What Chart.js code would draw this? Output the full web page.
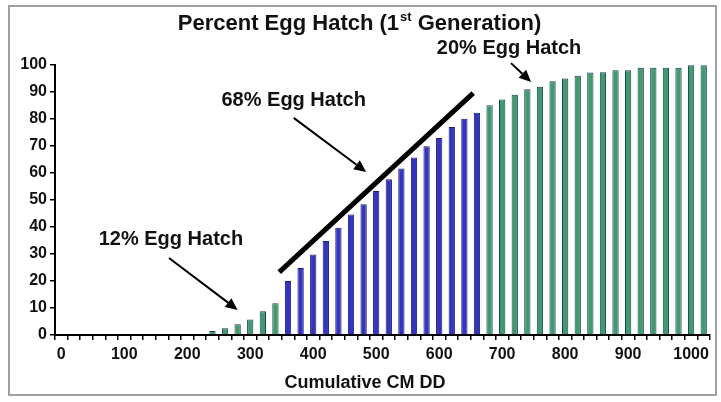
<!DOCTYPE html>
<html>
<head>
<meta charset="utf-8">
<script src="https://cdn.jsdelivr.net/npm/chart.js@4.4.1/dist/chart.umd.min.js"></script>
<style>
  html, body { margin: 0; padding: 0; background: #fff; }
  #wrap { width: 721px; height: 402px; position: relative; }
</style>
</head>
<body>
<div id="wrap"><canvas id="c" width="721" height="402"></canvas></div>
<script>
'use strict';

// ===== data =====
// cumulative degree-days, one bar every 20 DD
const DD = [
  '0', '20', '40', '60', '80', '100', '120', '140', '160', '180',
  '200', '220', '240', '260', '280', '300', '320', '340', '360', '380',
  '400', '420', '440', '460', '480', '500', '520', '540', '560', '580',
  '600', '620', '640', '660', '680', '700', '720', '740', '760', '780',
  '800', '820', '840', '860', '880', '900', '920', '940', '960', '980',
  '1000', '1020',
];

// percent egg hatch
const HATCH = [
  0, 0, 0, 0, 0, 0, 0, 0, 0, 0,
  0, 0.3, 1.5, 2.5, 4, 5.7, 8.8, 11.8, 20, 24.8,
  29.8, 34.8, 39.7, 44.6, 48.4, 53.3, 57.7, 61.7, 65.7, 69.9,
  73, 77, 80.1, 82.3, 85.1, 87.2, 89, 91, 91.9, 94,
  95, 96, 97.2, 97.3, 98.1, 98.1, 99, 99, 99, 99,
  99.9, 99.9,
];

// phase of each bar: 'g' = early/late (green), 'b' = main 68% hatch (blue)
const PHASE = [
  'g', 'g', 'g', 'g', 'g', 'g', 'g', 'g', 'g', 'g',
  'g', 'g', 'g', 'g', 'g', 'g', 'g', 'g', 'b', 'b',
  'b', 'b', 'b', 'b', 'b', 'b', 'b', 'b', 'b', 'b',
  'b', 'b', 'b', 'b', 'g', 'g', 'g', 'g', 'g', 'g',
  'g', 'g', 'g', 'g', 'g', 'g', 'g', 'g', 'g', 'g',
  'g', 'g',
];

const X_TICK_LABELS = ['0', '100', '200', '300', '400', '500', '600', '700', '800', '900', '1000'];
const Y_TICKS = [0, 10, 20, 30, 40, 50, 60, 70, 80, 90, 100];

// annotations in data units: [DD, percent]
const NOTES = [
  { text: '12% Egg Hatch', at: [174, 35.2] },
  { text: '68% Egg Hatch', at: [369, 87] },
  { text: '20% Egg Hatch', at: [711, 106] },
];
const ARROWS = [
  { from: [171, 28.5], to: [280, 9.3] },
  { from: [369, 80.4], to: [484, 60.4] },
  { from: [714, 100.7], to: [746, 93.7] },
];
const TREND = { from: [346, 23.3], to: [654, 89.6] };

// ===== styles =====
const FONT = '"Liberation Sans", Arial, sans-serif';
const COLORS = {
  b: { fill: '#3434c0', edge: '#1c1c70' },
  g: { fill: '#3f9a6c', edge: '#1d3d5c' },
};

// ===== helpers =====
function px(chart, pt) {
  const x = chart.scales.x.getPixelForValue(pt[0] / 20);
  const y = chart.scales.y.getPixelForValue(pt[1]);
  return [x, y];
}

function drawArrow(ctx, a, b) {
  const ang = Math.atan2(b[1] - a[1], b[0] - a[0]);
  const head = 12, half = 5.5;
  const bx = b[0] - Math.cos(ang) * head;
  const by = b[1] - Math.sin(ang) * head;
  ctx.lineWidth = 2;
  ctx.beginPath();
  ctx.moveTo(a[0], a[1]);
  ctx.lineTo(bx, by);
  ctx.stroke();
  ctx.beginPath();
  ctx.moveTo(b[0], b[1]);
  ctx.lineTo(bx - Math.sin(ang) * half, by + Math.cos(ang) * half);
  ctx.lineTo(bx + Math.sin(ang) * half, by - Math.cos(ang) * half);
  ctx.closePath();
  ctx.fill();
}

const decorPlugin = {
  id: 'decor',
  beforeDraw(chart) {
    const ctx = chart.ctx;
    ctx.save();
    ctx.fillStyle = '#fff';
    ctx.fillRect(0, 0, chart.width, chart.height);
    ctx.restore();
  },
  afterDraw(chart) {
    const ctx = chart.ctx;
    ctx.save();

    // frame
    ctx.strokeStyle = '#a0a0a0';
    ctx.lineWidth = 2;
    ctx.strokeRect(9, 6, 707, 389);

    ctx.fillStyle = '#111';
    ctx.strokeStyle = '#000';

    // title with superscript
    const cx = 359;
    const parts = ['Percent Egg Hatch (1', 'st', ' Generation)'];
    const big = 'bold 22px ' + FONT, small = 'bold 13px ' + FONT;
    ctx.font = big;
    const w1 = ctx.measureText(parts[0]).width;
    const w3 = ctx.measureText(parts[2]).width;
    ctx.font = small;
    const w2 = ctx.measureText(parts[1]).width;
    let x0 = cx - (w1 + w2 + w3) / 2;
    ctx.textBaseline = 'alphabetic';
    ctx.textAlign = 'left';
    ctx.font = big;
    ctx.fillText(parts[0], x0, 30);
    ctx.font = small;
    ctx.fillText(parts[1], x0 + w1 + 1, 21);
    ctx.font = big;
    ctx.fillText(parts[2], x0 + w1 + w2 + 1, 30);

    // x axis title
    ctx.font = 'bold 18px ' + FONT;
    ctx.textAlign = 'center';
    ctx.textBaseline = 'middle';
    ctx.fillText('Cumulative CM DD', 365, 383);

    // notes
    ctx.font = 'bold 20px ' + FONT;
    NOTES.forEach(n => {
      const p = px(chart, n.at);
      ctx.fillText(n.text, p[0], p[1]);
    });

    // arrows
    ctx.fillStyle = '#000';
    ARROWS.forEach(a => drawArrow(ctx, px(chart, a.from), px(chart, a.to)));

    // trend line
    const t0 = px(chart, TREND.from), t1 = px(chart, TREND.to);
    ctx.lineWidth = 5;
    ctx.beginPath();
    ctx.moveTo(t0[0], t0[1]);
    ctx.lineTo(t1[0], t1[1]);
    ctx.stroke();

    ctx.restore();
  },
};

// ===== chart =====
new Chart(document.getElementById('c'), {
  type: 'bar',
  data: {
    labels: DD,
    datasets: [{
      data: HATCH,
      backgroundColor: PHASE.map(p => COLORS[p].fill),
      borderColor: PHASE.map(p => COLORS[p].edge),
      borderWidth: 1,
      categoryPercentage: 1,
      barPercentage: 0.5,
    }],
  },
  options: {
    responsive: false,
    animation: false,
    events: [],
    layout: { padding: { top: 65, right: 11, left: 0, bottom: 0 } },
    plugins: {
      legend: { display: false },
      tooltip: { enabled: false },
      title: { display: false },
    },
    scales: {
      x: {
        type: 'category',
        offset: true,
        afterFit: s => { s.height = 67; },
        grid: {
          offset: true,
          drawOnChartArea: false,
          drawTicks: true,
          tickLength: 5,
          color: '#000',
          lineWidth: 1.5,
        },
        border: { color: '#000', width: 2 },
        ticks: {
          autoSkip: false,
          maxRotation: 0,
          padding: 5,
          color: '#111',
          font: { family: FONT, size: 16, weight: 'bold' },
          callback: (v, i) => X_TICK_LABELS.includes(DD[i]) ? DD[i] : '',
        },
      },
      y: {
        min: 0,
        max: 100,
        afterFit: s => { s.width = 55; },
        afterBuildTicks: s => { s.ticks = Y_TICKS.map(v => ({ value: v })); },
        grid: {
          drawOnChartArea: false,
          drawTicks: true,
          tickLength: 5,
          color: '#000',
          lineWidth: 1.5,
        },
        border: { color: '#000', width: 2 },
        ticks: {
          padding: 3,
          color: '#111',
          font: { family: FONT, size: 16, weight: 'bold' },
        },
      },
    },
  },
  plugins: [decorPlugin],
});
</script>
</body>
</html>
